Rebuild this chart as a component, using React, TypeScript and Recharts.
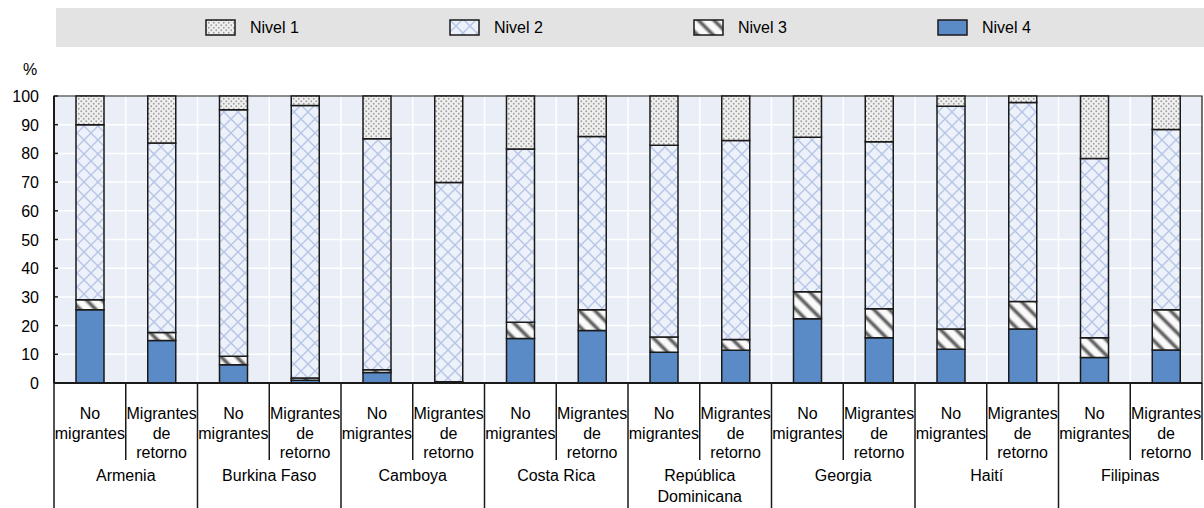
import React from 'react'
import { BarChart, Bar, XAxis, YAxis, CartesianGrid, ReferenceArea } from 'recharts'

const countries = ['Armenia', 'Burkina Faso', 'Camboya', 'Costa Rica', 'República Dominicana', 'Georgia', 'Haití', 'Filipinas']
const groups = ['No migrantes', 'Migrantes de retorno']

// values per bar, in order country x group
const nivel4 = [25.5, 14.8, 6.4, 1.0, 3.7, 0.2, 15.5, 18.3, 10.7, 11.4, 22.4, 15.8, 11.8, 18.8, 8.9, 11.5]
const nivel3 = [3.5, 2.8, 2.9, 0.7, 0.9, 0.2, 5.7, 7.2, 5.3, 3.8, 9.4, 10.1, 7.0, 9.6, 6.9, 14.0]
const nivel2 = [61.0, 66.0, 85.9, 95.0, 80.5, 69.5, 60.3, 60.4, 66.8, 69.3, 53.8, 58.2, 77.6, 69.3, 62.4, 62.8]
const nivel1 = [10.0, 16.4, 4.8, 3.3, 14.9, 30.1, 18.5, 14.1, 17.2, 15.5, 14.4, 15.9, 3.6, 2.3, 21.8, 11.7]

const yTicks = [0, 10, 20, 30, 40, 50, 60, 70, 80, 90, 100]

const groupLines: Record<string, string[]> = {
  'No migrantes': ['No', 'migrantes'],
  'Migrantes de retorno': ['Migrantes', 'de', 'retorno'],
}
const countryLines: Record<string, string[]> = {
  'República Dominicana': ['República', 'Dominicana'],
}

const data = countries.flatMap((country, ci) =>
  groups.map((group, gi) => {
    const i = ci * 2 + gi
    return {
      key: `${country}|${group}`,
      country,
      group,
      n4: nivel4[i],
      n3: nivel3[i],
      n2: nivel2[i],
      n1: nivel1[i],
    }
  })
)

const FONT = "'Liberation Sans Narrow', 'Arial Narrow', 'Liberation Sans', sans-serif"
const W = 1204
const H = 508
const MARGIN = { top: 96, right: 2, bottom: 0, left: 0 }
const Y_AXIS_W = 54
const X_AXIS_H = 125
const PLOT_LEFT = MARGIN.left + Y_AXIS_W
const PLOT_W = W - PLOT_LEFT - MARGIN.right
const AXIS_Y = H - MARGIN.bottom - X_AXIS_H
const BAND = PLOT_W / data.length

const BG = '#E9EEF7'
const BLUE = '#5B8BC7'
const EDGE = '#1a1a1a'

const legendItems = [
  { name: 'Nivel 1', fill: 'url(#pat-n1)' },
  { name: 'Nivel 2', fill: 'url(#pat-n2)' },
  { name: 'Nivel 3', fill: 'url(#pat-n3)' },
  { name: 'Nivel 4', fill: BLUE },
]

const Patterns = () => (
  <svg width={0} height={0} style={{ position: 'absolute' }}>
    <defs>
      <linearGradient id="stripe-grad" x1="0" x2="1" y1="0" y2="0">
        <stop offset="0" stopColor="#FAFAFA" />
        <stop offset="0.5" stopColor="#444" />
        <stop offset="1" stopColor="#FAFAFA" />
      </linearGradient>
      <pattern id="pat-n1" patternUnits="userSpaceOnUse" width={5} height={5}>
        <rect width={5} height={5} fill="#F0F0F0" />
        <circle cx={1.25} cy={1.25} r={0.95} fill="#A0A0A0" />
        <circle cx={3.75} cy={3.75} r={0.95} fill="#A0A0A0" />
      </pattern>
      <pattern id="pat-n2" patternUnits="userSpaceOnUse" width={14} height={14}>
        <rect width={14} height={14} fill="#EDF1F9" />
        <path d="M0,0 L14,14 M14,0 L0,14" stroke="#B6C5E7" strokeWidth={1.4} />
      </pattern>
      <pattern id="pat-n3" patternUnits="userSpaceOnUse" width={11} height={11} patternTransform="rotate(-45)">
        <rect width={11} height={11} fill="#FAFAFA" />
        <rect x={0} width={6} height={11} fill="url(#stripe-grad)" />
      </pattern>
    </defs>
  </svg>
)

const YTick = (props: any) => {
  const { y, payload } = props
  return (
    <g>
      <line x1={PLOT_LEFT} x2={PLOT_LEFT + 4} y1={y} y2={y} stroke={EDGE} strokeWidth={1.5} />
      <text x={PLOT_LEFT - 15} y={y + 6} textAnchor="end" fontSize={16} fontFamily={FONT} fill="#000">
        {payload.value}
      </text>
    </g>
  )
}

const XTick = (props: any) => {
  const { x, payload } = props
  const row = data.find((d) => d.key === payload.value)
  if (!row) return null
  const i = data.indexOf(row)
  const right = x + BAND / 2
  const left = x - BAND / 2
  const endOfCountry = i % 2 === 1
  const last = i === data.length - 1
  const lines = groupLines[row.group]
  const cLines = countryLines[row.country] || [row.country]
  return (
    <g>
      {i === 0 && <line x1={left} x2={left} y1={AXIS_Y} y2={H} stroke={EDGE} strokeWidth={1.5} />}
      <line
        x1={right}
        x2={right}
        y1={AXIS_Y}
        y2={endOfCountry && !last ? H : AXIS_Y + 77}
        stroke={EDGE}
        strokeWidth={1.5}
      />
      {lines.map((t, k) => (
        <text key={k} x={x} y={AXIS_Y + 36 + k * 19.5} textAnchor="middle" fontSize={16} fontFamily={FONT} fill="#000">
          {t}
        </text>
      ))}
      {endOfCountry &&
        cLines.map((t, k) => (
          <text key={'c' + k} x={left} y={AXIS_Y + 98 + k * 21} textAnchor="middle" fontSize={16} fontFamily={FONT} fill="#000">
            {t}
          </text>
        ))}
    </g>
  )
}

export default function App() {
  return (
    <div style={{ position: 'absolute', left: 0, top: 0, width: W, height: H, background: '#fff', fontFamily: FONT }}>
      <Patterns />
      <div style={{ position: 'absolute', left: 56, top: 8, width: W - 56, height: 39, background: '#E3E3E3' }}>
        {legendItems.map((item, i) => (
          <div key={item.name} style={{ position: 'absolute', left: 149 + i * 244, top: 0, height: 39, display: 'flex', alignItems: 'center' }}>
            <svg width={32} height={18} style={{ display: 'block' }}>
              <rect x={1} y={1} width={29} height={15} fill={item.fill} stroke={EDGE} strokeWidth={1.5} />
            </svg>
            <span style={{ marginLeft: 13, fontSize: 16, color: '#000' }}>{item.name}</span>
          </div>
        ))}
      </div>
      <div style={{ position: 'absolute', left: 23, top: 61, fontSize: 16, color: '#000' }}>%</div>
      <BarChart width={W} height={H} data={data} margin={MARGIN} barSize={28}>
        <CartesianGrid
          fill={BG}
          stroke="#fff"
          strokeWidth={1.5}
          verticalCoordinatesGenerator={({ offset }: any) =>
            Array.from({ length: data.length - 1 }, (_, i) => offset.left + ((i + 1) * offset.width) / data.length)
          }
        />
        <XAxis
          dataKey="key"
          interval={0}
          height={X_AXIS_H}
          tickLine={false}
          axisLine={{ stroke: EDGE, strokeWidth: 2 }}
          tick={<XTick />}
        />
        <YAxis
          domain={[0, 100]}
          ticks={yTicks}
          interval={0}
          width={Y_AXIS_W}
          tickLine={false}
          axisLine={{ stroke: EDGE, strokeWidth: 2 }}
          tick={<YTick />}
        />
        <Bar dataKey="n4" name="Nivel 4" stackId="a" fill={BLUE} stroke={EDGE} strokeWidth={1.5} isAnimationActive={false} />
        <Bar dataKey="n3" name="Nivel 3" stackId="a" fill="url(#pat-n3)" stroke={EDGE} strokeWidth={1.5} isAnimationActive={false} />
        <Bar dataKey="n2" name="Nivel 2" stackId="a" fill="url(#pat-n2)" stroke={EDGE} strokeWidth={1.5} isAnimationActive={false} />
        <Bar dataKey="n1" name="Nivel 1" stackId="a" fill="url(#pat-n1)" stroke={EDGE} strokeWidth={1.5} isAnimationActive={false} />
        <ReferenceArea y1={0} y2={100} fill="none" stroke={EDGE} strokeWidth={1.2} ifOverflow="visible" />
      </BarChart>
    </div>
  )
}
